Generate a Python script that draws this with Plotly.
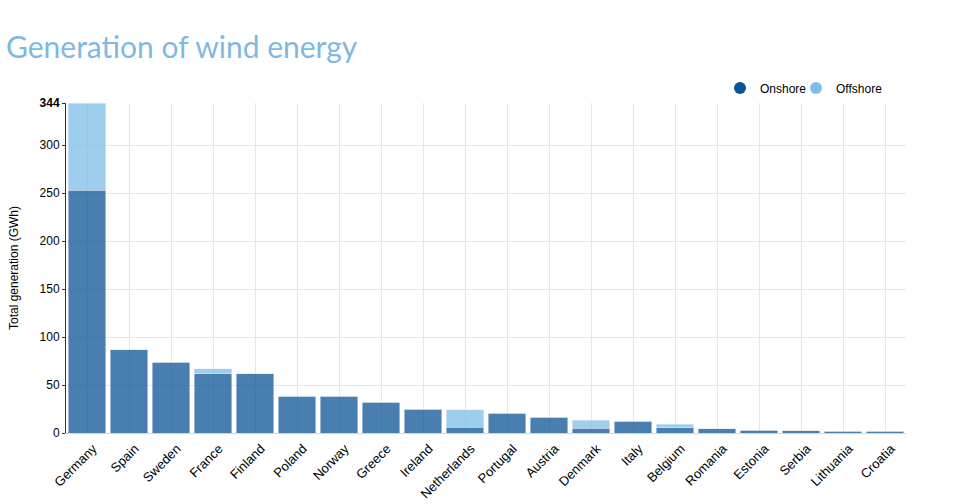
import plotly.graph_objects as go

countries = ["Germany", "Spain", "Sweden", "France", "Finland", "Poland", "Norway",
             "Greece", "Ireland", "Netherlands", "Portugal", "Austria", "Denmark",
             "Italy", "Belgium", "Romania", "Estonia", "Serbia", "Lithuania", "Croatia"]
onshore = [253, 87, 74, 62, 62, 38, 38.5, 32, 25, 6, 20.5, 16.5, 5, 12, 5.5, 4.5, 3, 2.5, 2, 1.7]
offshore = [91, 0, 0, 5, 0, 1, 0, 0, 0, 18, 0, 0, 8.5, 0, 3.5, 0, 0, 0, 0, 0]
y_ticks = [0, 50, 100, 150, 200, 250, 300, 344]
y_tick_text = ["0", "50", "100", "150", "200", "250", "300", "<b>344</b>"]

on_col = "#0b5596"
off_col = "#7dbee9"

fig = go.Figure()
fig.add_trace(go.Bar(x=countries, y=onshore, name="Onshore", marker_color=on_col,
                     opacity=0.75, showlegend=False))
fig.add_trace(go.Bar(x=countries, y=offshore, name="Offshore", marker_color=off_col,
                     opacity=0.75, showlegend=False))
# legend entries with circle symbols
fig.add_trace(go.Scatter(x=[None], y=[None], mode="markers", name="Onshore",
                         marker=dict(symbol="circle", size=12, color=on_col),
                         legend="legend"))
fig.add_trace(go.Scatter(x=[None], y=[None], mode="markers", name="Offshore",
                         marker=dict(symbol="circle", size=12, color=off_col),
                         legend="legend2"))

leg_common = dict(orientation="h", xref="container", yref="container",
                  xanchor="right", y=1 - 88 / 504, yanchor="middle",
                  font=dict(size=12), itemwidth=30, bgcolor="rgba(0,0,0,0)")

fig.update_layout(
    width=956, height=504,
    barmode="stack", bargap=0.1,
    plot_bgcolor="white", paper_bgcolor="white",
    margin=dict(l=66, r=50, t=103, b=71, autoexpand=False),
    font=dict(family="Liberation Sans, Arial", size=12, color="#000"),
    title=dict(text="Generation of wind energy", x=6 / 956, xref="container",
               xanchor="left", y=1 - 47 / 504, yref="container", yanchor="middle",
               font=dict(family="Lato", size=30, color="#7fb9e2", weight=400)),
    legend=dict(x=812 / 956, **leg_common),
    legend2=dict(x=888 / 956, **leg_common),
    xaxis=dict(showgrid=True, gridcolor="#e6e6e6", tickangle=-45,
               showline=True, linecolor="#ccd6eb", ticks="", tickfont=dict(size=13),
               ticklabelshift=6, ticklabelstandoff=2),
    yaxis=dict(range=[0, 344], tickvals=y_ticks, ticktext=y_tick_text,
               showgrid=True, gridcolor="#e6e6e6", showline=True, linecolor="#333",
               zeroline=False, ticks="outside", ticklen=3, tickcolor="#333",
               tickfont=dict(size=12),
               title=dict(text="Total generation (GWh)", font=dict(size=12), standoff=18)),
)

fig.write_html("out.html", config={"displayModeBar": False},
               post_script="document.body.style.margin='0';document.body.style.overflow='hidden';")
